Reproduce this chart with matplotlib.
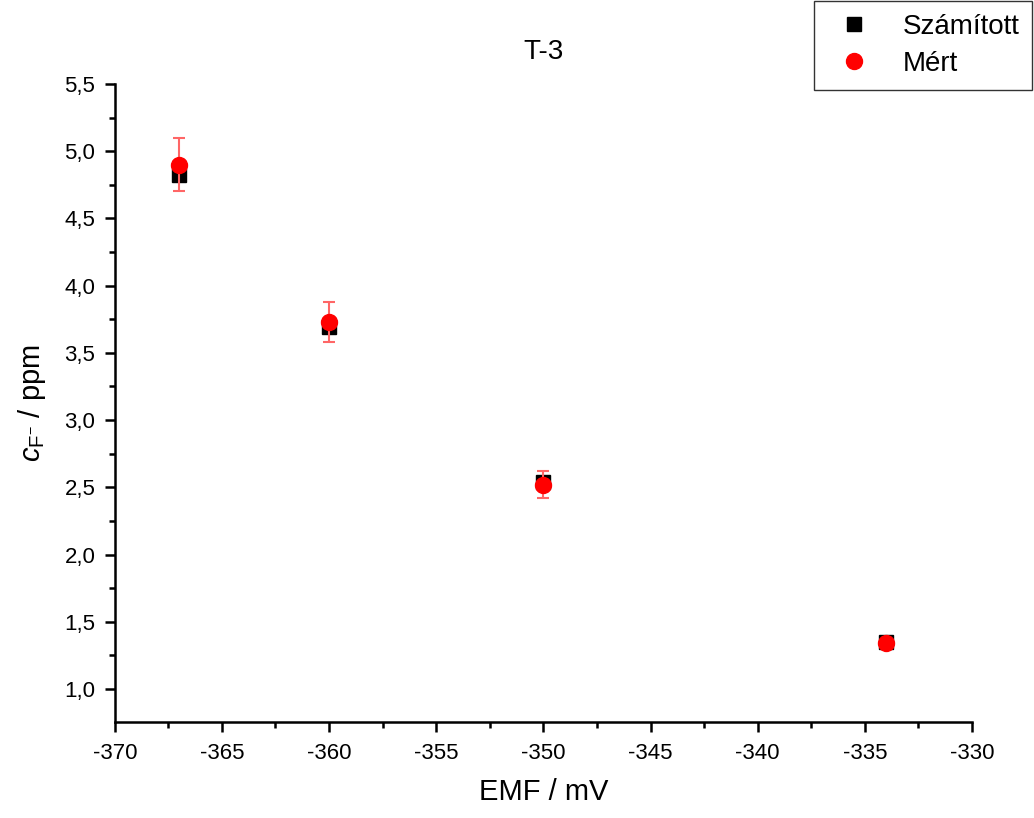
import matplotlib
matplotlib.use('Agg')
import matplotlib.pyplot as plt
from matplotlib.lines import Line2D
from matplotlib.ticker import MultipleLocator, FuncFormatter

plt.rcParams['font.family'] = 'Liberation Sans'
plt.rcParams['mathtext.fontset'] = 'custom'
plt.rcParams['mathtext.rm'] = 'Liberation Sans'
plt.rcParams['mathtext.it'] = 'Liberation Sans:italic'
plt.rcParams['axes.unicode_minus'] = False

# data
emf = [-367, -360, -350, -334]
calc = [4.82, 3.69, 2.54, 1.35]
meas = [4.90, 3.73, 2.52, 1.34]
meas_err = [0.20, 0.15, 0.10, 0.0]

fig = plt.figure(figsize=(10.34, 8.18), dpi=100)
ax = fig.add_axes([0.111, 0.1174, 0.829, 0.78])

ax.plot(emf, calc, 's', color='black', markersize=10, zorder=2)
ax.errorbar(emf, meas, yerr=meas_err, fmt='o', color='red', markersize=11.5,
            ecolor=(1, 0.4, 0.4), elinewidth=1.5, capsize=4.5, capthick=1.5,
            zorder=3)

ax.set_xlim(-370, -330)
ax.set_ylim(0.755, 5.5)
ax.xaxis.set_major_locator(MultipleLocator(5))
ax.xaxis.set_minor_locator(MultipleLocator(2.5))
ax.yaxis.set_major_locator(MultipleLocator(0.5))
ax.yaxis.set_minor_locator(MultipleLocator(0.25))
ax.yaxis.set_major_formatter(FuncFormatter(lambda v, p: f'{v:.1f}'.replace('.', ',')))

for s in ['top', 'right']:
    ax.spines[s].set_visible(False)
for s in ['left', 'bottom']:
    ax.spines[s].set_linewidth(1.8)
ax.tick_params(axis='both', which='major', direction='out', length=7, width=1.8, labelsize=16)
ax.tick_params(axis='x', which='major', pad=8)
ax.tick_params(axis='y', which='major', pad=7)
ax.tick_params(axis='both', which='minor', direction='out', length=4, width=1.8)

ax.set_xlabel('EMF / mV', fontsize=21, labelpad=10)
ax.set_ylabel(r'$c_{\mathrm{F}^{-}}$ / ppm', fontsize=21, labelpad=12)
ax.set_title('T-3', fontsize=20, pad=18)

handles = [Line2D([], [], ls='none', marker='s', color='black', markersize=10),
           Line2D([], [], ls='none', marker='o', color='red', markersize=11.5)]
leg = fig.legend(handles, ['Számított', 'Mért'], loc='upper right',
                 bbox_to_anchor=(0.9995, 1.0), fontsize=20, frameon=True,
                 fancybox=False, edgecolor='black', borderpad=0.45,
                 handlelength=2.0, handletextpad=0.75, labelspacing=0.4,
                 borderaxespad=0.05)
leg.get_frame().set_linewidth(1.0)

fig.savefig('out.png', dpi=100)
